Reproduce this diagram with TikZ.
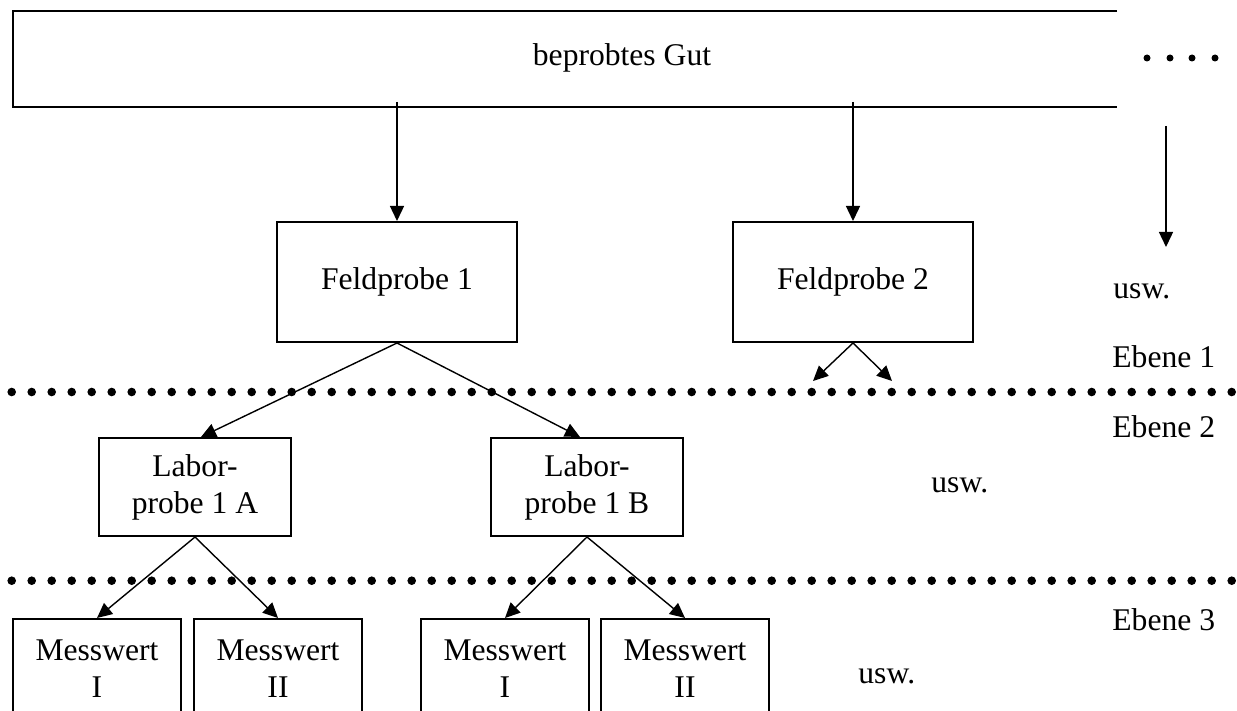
\documentclass[tikz,border=0pt]{standalone}
\usepackage{fontspec}
\setmainfont{Liberation Serif}
\usepackage{tikz}
\usetikzlibrary{arrows.meta}
\tikzstyle{kasten} = [draw=black, line width=1pt]
\tikzstyle{feld} = [rectangle, minimum width=120pt, minimum height=60pt, align=center, draw=black, line width=1pt]
\tikzstyle{labor} = [rectangle, minimum width=96pt, minimum height=49pt, align=center, draw=black, line width=1pt]
\tikzstyle{messwert} = [rectangle, minimum width=84pt, minimum height=50pt, align=center, draw=black, line width=1pt]
\tikzstyle{ebene} = [anchor=base west, inner sep=0pt]
\tikzstyle{arrow} = [line width=0.7pt, -{Triangle[length=7.5pt, width=7pt]}]

\begin{document}
\begin{tikzpicture}[x=0.5pt, y=0.5pt, font=\fontsize{15.8}{18.4}\selectfont]
\useasboundingbox (0,0) rectangle (1237,-711);
\clip (0,0) rectangle (1237,-711);
% oberer Kasten, rechts offen
\draw [kasten] (1117,-11.5) -| (13,-107.5) -- (1117,-107.5);
\node (gut) at (622,-58) {beprobtes Gut};
\foreach \x in {1147,1170,1192,1215} \fill (\x,-58) circle (3.5);
\coordinate (gut1) at (397,-102);
\coordinate (gut2) at (853,-102);
\coordinate (weiter1) at (1166,-126);
\coordinate (weiter2) at (1166,-247);
% Ebene 1
\node (feld1) [feld] at (397,-282) {Feldprobe 1};
\node (feld2) [feld, right of=feld1, node distance=228pt] {Feldprobe 2};
\coordinate (f2l) at (813,-381);
\coordinate (f2r) at (892,-381);
% Trennlinien
\foreach \k in {0,...,61} {
  \fill (11.7+20*\k,-392) circle (4.3);
  \fill (11.7+20*\k,-580.7) circle (4.3);
}
% Ebene 2
\node (lab1a) [labor] at (195,-487) {Labor-\\probe 1 A};
\node (lab1b) [labor, right of=lab1a, node distance=196pt] {Labor-\\probe 1 B};
% Ebene 3
\node (mw1) [messwert] at (97,-669) {Messwert\\I};
\node (mw2) [messwert, right of=mw1, node distance=90.5pt] {Messwert\\II};
\node (mw3) [messwert, right of=mw2, node distance=113.5pt] {Messwert\\I};
\node (mw4) [messwert, right of=mw3, node distance=90pt] {Messwert\\II};
% Beschriftung rechts
\node (usw1) [ebene] at (1113,-299) {usw.};
\node (eb1) [ebene] at (1112,-367) {Ebene 1};
\node (eb2) [ebene] at (1112,-437) {Ebene 2};
\node (usw2) [ebene] at (931,-492) {usw.};
\node (eb3) [ebene] at (1112,-630) {Ebene 3};
\node (usw3) [ebene] at (858,-683) {usw.};
\draw [arrow] (gut1) -- (feld1);
\draw [arrow] (gut2) -- (feld2);
\draw [arrow] (weiter1) -- (weiter2);
\draw [arrow] (feld1.south) -- ([xshift=3pt]lab1a.north);
\draw [arrow] (feld1.south) -- ([xshift=-3.5pt]lab1b.north);
\draw [arrow] (feld2.south) -- (f2l);
\draw [arrow] (feld2.south) -- (f2r);
\draw [arrow] (lab1a.south) -- (mw1.north);
\draw [arrow] (lab1a.south) -- (mw2.north);
\draw [arrow] (lab1b.south) -- (mw3.north);
\draw [arrow] (lab1b.south) -- (mw4.north);
\end{tikzpicture}
\end{document}
